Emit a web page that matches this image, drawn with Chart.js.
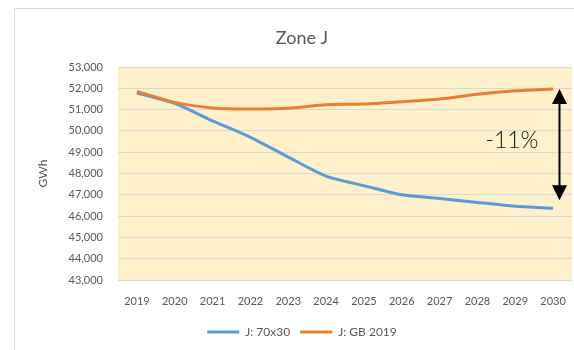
<!DOCTYPE html>
<html>
<head>
<meta charset="utf-8">
<script src="https://cdn.jsdelivr.net/npm/chart.js@4/dist/chart.umd.min.js"></script>
<style>
  html, body { margin: 0; padding: 0; background: #ffffff; }
  #wrap { width: 574px; height: 350px; }
</style>
</head>
<body>
<div id="wrap"><canvas id="c" width="574" height="350"></canvas></div>
<script>
const years = ['2019','2020','2021','2022','2023','2024','2025','2026','2027','2028','2029','2030'];
const series70x30 = [51780, 51290, 50470, 49700, 48770, 47880, 47430, 47000, 46830, 46640, 46460, 46370];
const seriesGB2019 = [51850, 51340, 51080, 51030, 51060, 51230, 51260, 51370, 51500, 51720, 51880, 51970];
const seriesNames = ['J: 70x30', 'J: GB 2019'];
const yTicks = { min: 43000, max: 53000, step: 1000 };
const annotationText = '-11%';
const arrowBottomValue = 46750;

const FONT = 'Lato, "Open Sans", "Liberation Sans", sans-serif';
const TEXT = '#595959';

const framePlugin = {
  id: 'frame',
  beforeDraw(chart) {
    const ctx = chart.ctx;
    ctx.save();
    ctx.fillStyle = '#ffffff';
    ctx.fillRect(0, 0, chart.width, chart.height);
    ctx.strokeStyle = '#d9d9d9';
    ctx.lineWidth = 1;
    ctx.strokeRect(14.5, 8.5, 700, 500);
    const a = chart.chartArea;
    ctx.fillStyle = '#fdf0cb';
    ctx.fillRect(a.left, a.top, a.right - a.left, a.bottom - a.top);
    ctx.restore();
  }
};

const arrowPlugin = {
  id: 'arrowNote',
  afterDatasetsDraw(chart) {
    const xs = chart.scales.x, ys = chart.scales.y;
    const last = years.length - 1;
    const x = Math.round(xs.getPixelForValue(last)) + 6.5;
    const top = ys.getPixelForValue(seriesGB2019[last]);
    const bot = ys.getPixelForValue(arrowBottomValue);
    const hw = 7.5, hh = 15;
    const ctx = chart.ctx;
    ctx.save();
    ctx.strokeStyle = '#000';
    ctx.fillStyle = '#000';
    ctx.lineWidth = 2;
    ctx.beginPath();
    ctx.moveTo(x, top + hh - 1);
    ctx.lineTo(x, bot - hh + 1);
    ctx.stroke();
    ctx.beginPath();
    ctx.moveTo(x, top);
    ctx.lineTo(x - hw, top + hh);
    ctx.lineTo(x + hw, top + hh);
    ctx.closePath();
    ctx.fill();
    ctx.beginPath();
    ctx.moveTo(x, bot);
    ctx.lineTo(x - hw, bot - hh);
    ctx.lineTo(x + hw, bot - hh);
    ctx.closePath();
    ctx.fill();
    ctx.font = '300 23px ' + FONT;
    ctx.textAlign = 'right';
    ctx.textBaseline = 'middle';
    ctx.fillStyle = '#111';
    ctx.fillText(annotationText, x - 21, (top + bot) / 2 - 4);
    ctx.restore();
  }
};

new Chart(document.getElementById('c'), {
  type: 'line',
  data: {
    labels: years,
    datasets: [
      {
        label: seriesNames[0],
        data: series70x30,
        borderColor: '#5b9bd5',
        backgroundColor: '#5b9bd5',
        borderWidth: 3,
        pointRadius: 0,
        tension: 0.25,
        order: 1
      },
      {
        label: seriesNames[1],
        data: seriesGB2019,
        borderColor: '#ed7d31',
        backgroundColor: '#ed7d31',
        borderWidth: 3,
        pointRadius: 0,
        tension: 0.25,
        order: 0
      }
    ]
  },
  options: {
    responsive: false,
    animation: false,
    devicePixelRatio: 1,
    layout: { padding: { left: 32, right: 2, top: 8, bottom: 2 } },
    plugins: {
      tooltip: { enabled: false },
      title: {
        display: true,
        text: 'Zone J',
        color: TEXT,
        font: { family: FONT, size: 18, weight: 'normal' },
        padding: { top: 19, bottom: 18.4 }
      },
      legend: {
        position: 'bottom',
        labels: {
          color: TEXT,
          font: { family: FONT, size: 12 },
          usePointStyle: true,
          pointStyle: 'line',
          pointStyleWidth: 32,
          padding: 10,
          sort: (a, b) => a.datasetIndex - b.datasetIndex
        }
      }
    },
    scales: {
      x: {
        offset: true,
        grid: { display: false, offset: true },
        border: { display: false },
        ticks: { color: TEXT, font: { family: FONT, size: 11 }, padding: 7, maxRotation: 0, autoSkip: false },
        afterFit(s) { s.height = 36; }
      },
      y: {
        min: yTicks.min,
        max: yTicks.max,
        grid: { color: '#d9d9d9', drawTicks: false },
        border: { display: false },
        ticks: {
          stepSize: yTicks.step,
          color: TEXT,
          padding: 15,
          font: { family: FONT, size: 11 },
          callback: v => v.toLocaleString('en-US')
        },
        title: { display: true, text: 'GWh', color: TEXT, font: { family: FONT, size: 12 }, padding: { top: 4, bottom: 4 } },
        afterFit(s) { s.width = 86; }
      }
    }
  },
  plugins: [framePlugin, arrowPlugin]
});
</script>
</body>
</html>
